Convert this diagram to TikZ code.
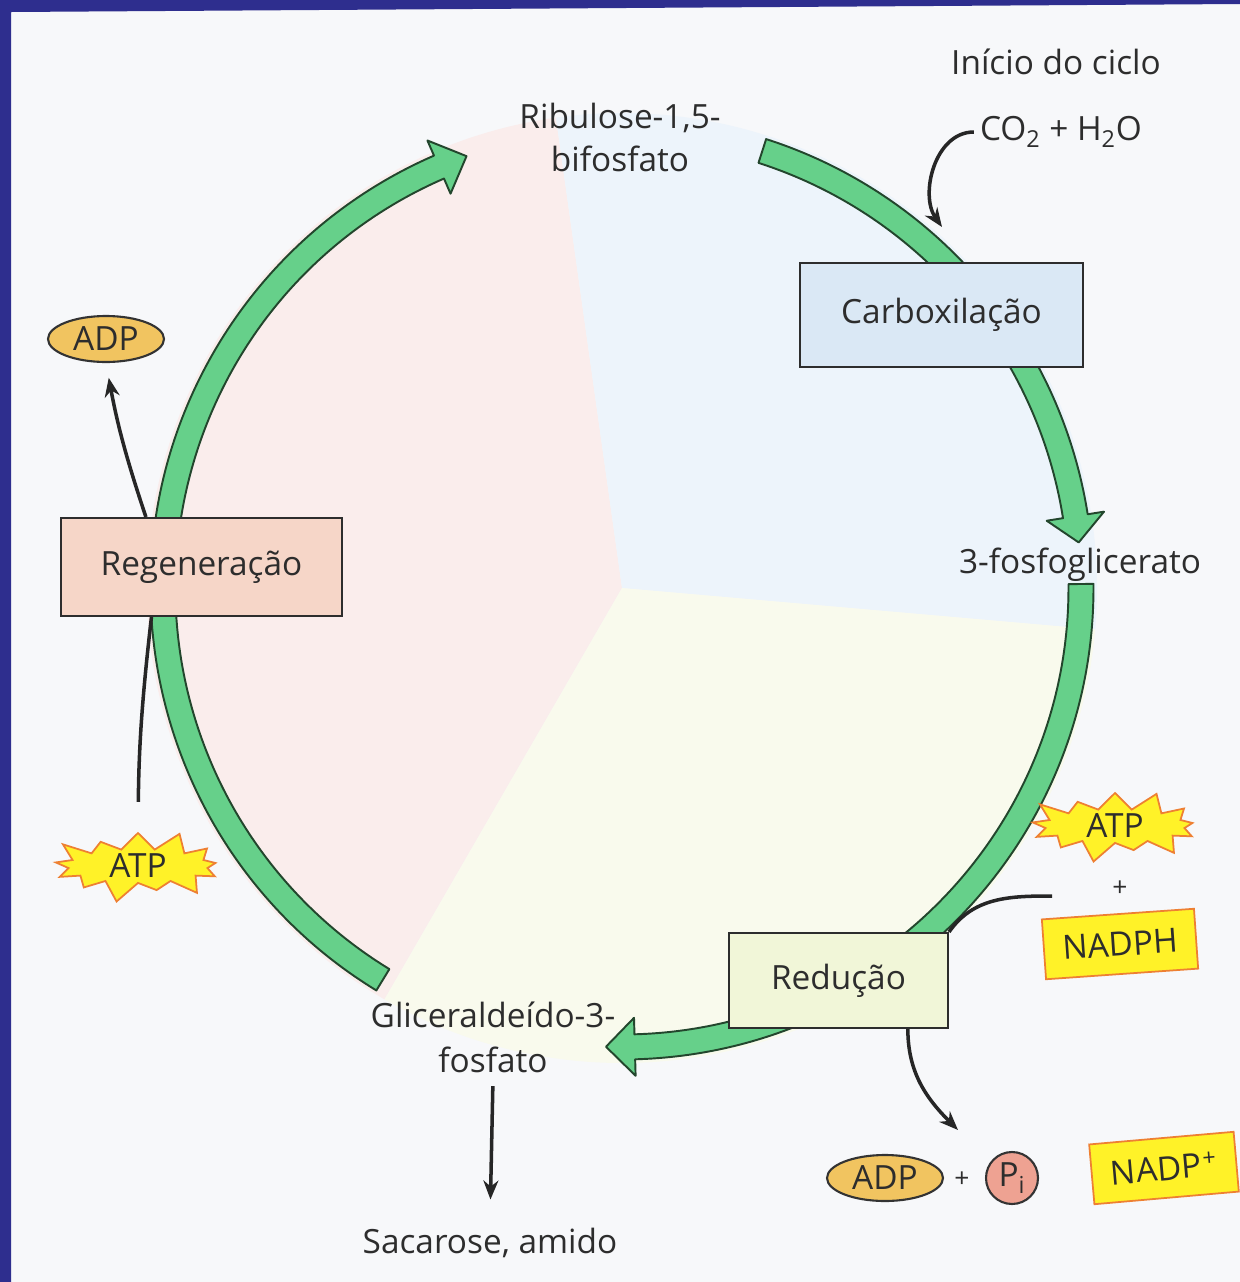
\documentclass[tikz,border=0pt]{standalone}
\usepackage{fontspec}
\setmainfont{Open Sans}
\usetikzlibrary{shapes.geometric,shapes.symbols,arrows.meta}

\definecolor{pageblue}{RGB}{46,46,142}
\definecolor{paper}{RGB}{247,248,250}
\definecolor{pinktint}{RGB}{250,237,236}
\definecolor{bluetint}{RGB}{237,244,251}
\definecolor{yellowtint}{RGB}{249,250,237}
\definecolor{cyclegreen}{RGB}{102,208,138}
\definecolor{cycleedge}{RGB}{35,70,45}
\definecolor{carbfill}{RGB}{218,232,245}
\definecolor{regfill}{RGB}{246,214,200}
\definecolor{redfill}{RGB}{241,246,216}
\definecolor{adpfill}{RGB}{241,196,96}
\definecolor{pifill}{RGB}{238,162,146}
\definecolor{atpfill}{RGB}{255,242,40}
\definecolor{atpedge}{RGB}{238,128,50}
\definecolor{inkgray}{RGB}{45,45,45}

\tikzset{
  every node/.style={text=inkgray, font=\fontsize{19}{24.5}\selectfont},
  stepbox/.style={draw=inkgray, line width=1.2pt, inner sep=0pt},
  cyclearrow/.style={fill=cyclegreen, draw=cycleedge, line width=1.1pt, line join=round},
  adpoval/.style={ellipse, draw=black!80, line width=1.2pt, fill=adpfill,
    minimum width=2.32cm, minimum height=0.92cm, inner sep=0pt},
  atpstar/.style={starburst, starburst points=13, starburst point height=0.45cm,
    fill=atpfill, draw=atpedge, line width=1pt, minimum width=3.7cm,
    minimum height=1.45cm, inner sep=0pt},
  cofactor/.style={fill=atpfill, draw=atpedge, line width=1pt,
    minimum width=3.05cm, minimum height=1.2cm, inner sep=0pt},
  conn/.style={draw=black!85, line width=2pt},
  plussign/.style={font=\fontsize{15}{18}\selectfont}
}

\begin{document}
\begin{tikzpicture}[x=0.02cm, y=0.02cm, >={Stealth[length=0.38cm,width=0.3cm]}]
\useasboundingbox (0,0) rectangle (1240,-1282);
\fill[paper] (0,0) rectangle (1240,-1282);

\begin{scope}[shift={(622,-588)}]
  \fill[pinktint] (0,0) -- (98:475) arc[start angle=98, end angle=240, radius=475] -- cycle;
  \fill[bluetint] (0,0) -- (-5:475) arc[start angle=-5, end angle=98, radius=475] -- cycle;
  \fill[yellowtint] (0,0) -- (-120:475) arc[start angle=-120, end angle=-5, radius=475] -- cycle;
  \foreach \a/\b/\t in {72.2/9/5.7, 0.5/-88.4/-92, -121.4/-246.5/-250.2}
  \filldraw[cyclearrow] (\a:471.5) arc[start angle=\a, end angle=\b, radius=471.5]
    -- (\b:488) -- (\t:459) -- (\b:430) -- (\b:446.5)
    arc[start angle=\b, end angle=\a, radius=446.5] -- cycle;
\end{scope}

\fill[pageblue] (0,0) -- (1240,0) -- (1240,-4) -- (11,-12) -- (11,-1282) -- (0,-1282) -- cycle;

\node (inicio) at (1056,-62) {Início do ciclo};
\node (co2) at (1061,-132) {CO\textsubscript{2} + H\textsubscript{2}O};
\node[align=center] (rubp) at (620,-137) {Ribulose-1,5-\\bifosfato};
\node (pga) at (1080,-565) {3-fosfoglicerato};
\node[align=center, font=\fontsize{19}{25.5}\selectfont] (gap) at (493,-1037) {Gliceraldeído-3-\\fosfato};
\node (sac) at (490,-1243) {Sacarose, amido};

\node[stepbox, fill=carbfill, minimum width=5.66cm, minimum height=2.08cm] (carb) at (941.5,-315) {Carboxilação};
\node[stepbox, fill=regfill, minimum width=5.62cm, minimum height=1.96cm] (regen) at (201.5,-567) {Regeneração};
\node[stepbox, fill=redfill, minimum width=4.38cm, minimum height=1.9cm] (red) at (838.5,-980.5) {Redução};

\node[adpoval] (adpL) at (106,-339) {ADP};
\node[atpstar] (atpL) at (138,-866) {ATP};
\node[atpstar] (atpR) at (1115,-826) {ATP};
\node[plussign] (plusR) at (1120,-889) {+};
\node[cofactor, rotate=4] (nadph) at (1120,-944) {NADPH};
\node[adpoval] (adpB) at (885,-1178) {ADP};
\node[plussign] (plusB) at (962,-1180) {+};
\node[circle, draw=black!80, line width=1.2pt, fill=pifill, minimum size=1.04cm, inner sep=0pt] (pi) at (1012,-1178) {P\textsubscript{i}};
\node[cofactor, minimum width=2.9cm, rotate=5] (nadp) at (1164,-1168) {NADP\kern1pt\textsuperscript{+}};

\coordinate (fix) at (942,-227);
\coordinate (inR) at (1052,-896);
\coordinate (outB) at (958,-1130);

\draw[conn, ->] (co2.west) to[out=180, in=125] (fix);
\draw[conn, ->, shorten >=0.3cm] (regen.138) to[bend left=4] (adpL.south);
\draw[conn, shorten <=0.6cm] (atpL.north) to[bend left=3] (regen.225);
\draw[conn] (inR) to[out=180, in=55] (red.north east);
\draw[conn, ->] (red.-35) to[out=-90, in=135] (outB);
\draw[conn, ->, shorten <=0.15cm, shorten >=0.45cm] (gap.south) -- (sac.north);
\end{tikzpicture}
\end{document}
